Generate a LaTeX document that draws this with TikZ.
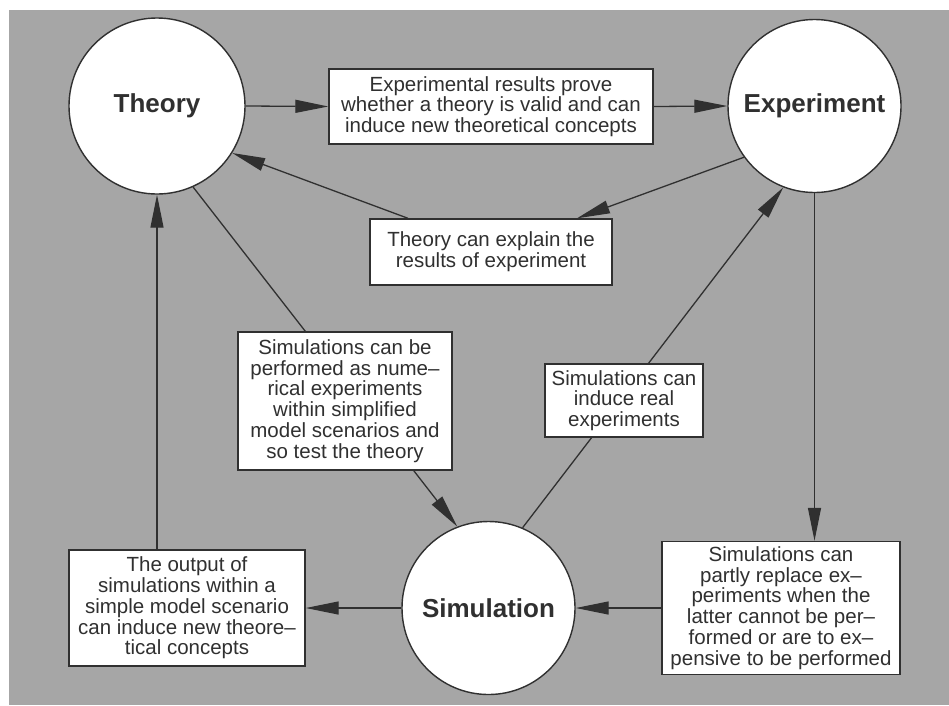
\documentclass[tikz,border=0pt]{standalone}
\usepackage{fontspec}
\setmainfont{Liberation Sans}
\usetikzlibrary{arrows.meta,backgrounds}
\definecolor{bg}{HTML}{A6A6A6}
\definecolor{ink}{HTML}{303030}
\begin{document}
\begin{tikzpicture}[x=1pt,y=-1pt,
  bubble/.style={circle, draw=ink, line width=1.4pt, fill=white, inner sep=0pt, text=ink,
    font=\fontsize{26}{28}\selectfont\bfseries},
  note/.style={rectangle, draw=ink, line width=1.4pt, fill=white, inner sep=0pt, text=ink,
    align=center, font=\fontsize{20.5}{20.7}\selectfont},
  conn/.style={draw=ink, line width=1.3pt},
  arr/.style={conn, -{Triangle[length=33pt,width=13pt]}}
]
\useasboundingbox (0,0) rectangle (949,705);

% circles
\node[bubble, minimum size=176pt] (theory) at (157,106) {Theory};
\node[bubble, minimum size=173pt] (exp) at (814.5,106) {Experiment};
\node[bubble, minimum size=173pt] (sim) at (488.5,608) {Simulation};

% boxes
\node[note, minimum width=324pt, minimum height=75pt] (b1) at (491,106.5)
  {Experimental results prove\\whether a theory is valid and can\\induce new theoretical concepts};
\node[note, minimum width=242pt, minimum height=66pt] (b2) at (491,252)
  {Theory can explain the\\results of experiment};
\node[note, minimum width=214pt, minimum height=138pt] (b3) at (345,401)
  {Simulations can be\\performed as nume–\\rical experiments\\within simplified\\model scenarios and\\so test the theory};
\node[note, minimum width=158pt, minimum height=73pt] (b4) at (624,400.5)
  {Simulations can\\induce real\\experiments};
\node[note, minimum width=236pt, minimum height=116pt] (b5) at (187,608)
  {The output of\\simulations within a\\simple model scenario\\can induce new theore–\\tical concepts};
\node[note, minimum width=238pt, minimum height=133pt] (b6) at (781,608)
  {Simulations can\\partly replace ex–\\periments when the\\latter cannot be per–\\formed or are to ex–\\pensive to be performed};

\coordinate (b2in) at ([xshift=86pt]b2.north);
\coordinate (b2out) at ([xshift=-83pt]b2.north);

\begin{pgfonlayer}{background}
  \fill[bg] (9,10) rectangle (949,705);
  \draw[arr] (theory.-66) -- (sim.111);
  \draw[arr] (sim.67) -- (exp.-111);
\end{pgfonlayer}

\draw[arr] (theory.east) -- (b1.west);
\draw[arr] (b1.east) -- (exp.west);
\draw[arr] (exp.216) -- (b2in);
\draw[arr] (b2out) -- (theory.-32);
\draw[arr] (exp.south) -- (exp.south |- b6.north);
\draw[arr] (b6.west) -- (sim.east);
\draw[arr] (sim.west) -- (b5.east);
\draw[arr] (b5.north -| theory.south) -- (theory.south);
\end{tikzpicture}
\end{document}
